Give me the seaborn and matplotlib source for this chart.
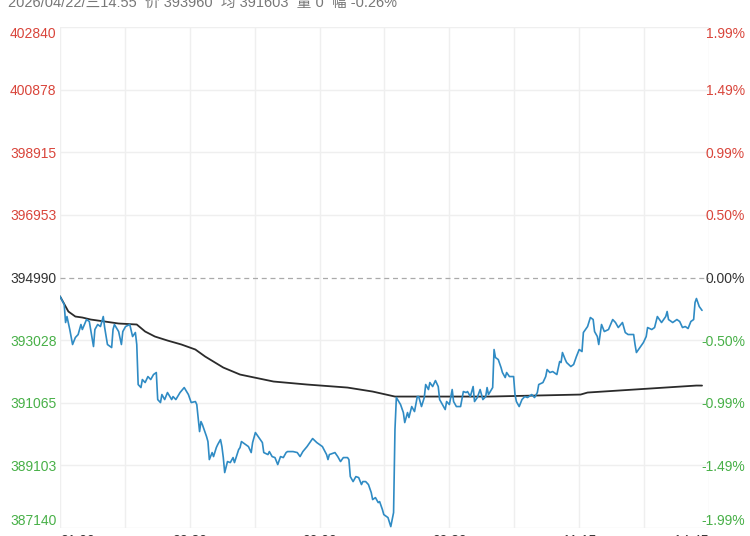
import matplotlib
matplotlib.use("Agg")
import matplotlib.pyplot as plt
import pandas as pd
import seaborn as sns

# -- Data ----------------------------------------------------------------------

PRE_CLOSE = 394990

# trading minutes since 21:00 (night 21:00-01:00, then the day session)
price_minute = [
    0, 3, 4, 5, 7, 9, 11, 13, 15, 16, 19, 21, 24, 25, 27, 29, 31, 32, 34, 37,
    38, 39, 42, 44, 45, 47, 50, 52, 54, 55, 56, 58, 59, 61, 63, 65, 67, 69, 70, 72,
    73, 75, 77, 80, 81, 83, 86, 89, 92, 94, 97, 98,
    100, 101, 102, 105, 106, 107, 109, 110, 112, 113, 115, 116, 117, 118, 120, 122, 124, 125,
    128, 129, 130, 133, 135, 137, 138, 140, 142, 145, 146, 149, 150, 152, 154, 156, 158, 160,
    162, 163, 167, 170, 172, 174, 177, 179, 181, 184, 186, 188, 191, 192, 193, 197, 199, 201,
    203, 206, 207, 208, 210, 212, 214, 216, 217, 219, 221, 223, 224, 226, 228, 229, 231, 232,
    234, 235, 237, 239, 240, 241,
    244, 246, 247, 249, 250, 252, 254, 256, 257, 259, 261, 262, 264, 265, 267, 269, 271, 272,
    274, 276, 277, 279, 281, 282, 284, 287, 289, 291, 292, 294, 296, 297, 299, 301, 303, 305,
    306, 307, 310, 311, 312, 314, 316, 317, 319, 320, 322, 325, 326, 327, 329, 331, 333, 335,
    338, 340, 342, 343, 346, 348, 349, 351, 353, 356, 358,
    359, 360, 362, 363, 366, 368, 370, 372, 374, 375, 378, 380, 382, 383, 385, 386, 388, 390,
    393, 396, 398, 400, 403, 405, 407, 411, 412, 413, 416, 418, 420, 421, 424, 426, 428, 431,
    434, 435, 436, 439, 442, 444, 446, 448, 450, 452, 454, 455, 456, 458, 460,
]
price = [
    394400, 394144, 393579, 393767, 393360, 392890, 393109, 393203, 393517, 393360,
    393673, 393611, 392827, 393360, 393517, 393454, 393767, 393422, 392890, 392795,
    393360, 393517, 393297, 392890, 393297, 393454, 393517, 393140, 393266, 392890,
    391636, 391541, 391792, 391698, 391886, 391792, 391949, 392012, 391165, 391071,
    391322, 391165, 391385, 391165, 391259, 391165, 391385, 391541, 391322, 391071,
    391103, 391009,
    390162, 390476, 390382, 390005, 389849, 389284, 389504, 389378, 389660, 389755,
    389911, 389692, 389347, 388877, 389222, 389190, 389347, 389190, 389598, 389660,
    389849, 389755, 389692, 389504, 389817, 390131, 390005, 389817, 389504, 389441,
    389535, 389378, 389347, 389128, 389378, 389347, 389504, 389535, 389535, 389504,
    389378, 389535, 389692, 389817, 389943, 389817, 389755, 389692, 389441, 389284,
    389441, 389504, 389378, 389222, 389347, 389347, 389284, 388751, 388595, 388751,
    388720, 388501, 388595, 388595, 388501, 388250, 388030, 388093, 387936, 387968,
    387717, 387560, 387497, 387466, 387184, 387623, 390225, 391228,
    391009, 390758, 390444, 390758, 390601, 390946, 390789, 391259, 391259, 390946,
    391228, 391636, 391479, 391698, 391573, 391761, 391573, 391165, 391009, 390852,
    391103, 391009, 391479, 391103, 390946, 390946, 391416, 391385, 391416, 391259,
    391573, 391103, 391228, 391479, 391165, 391259, 391541, 391322, 391541, 392733,
    392482, 392419, 392168, 392012, 391855, 392012, 391886, 391886, 391322, 391103,
    390946, 391165, 391259, 391228, 391322, 391228, 391385, 391636, 391698, 391886,
    392106, 392012, 392043, 391949, 392357,
    392325, 392639, 392419, 392325, 392200, 392263, 392513, 392733, 392670, 393266,
    393454, 393736, 393673, 393297, 393140, 392890, 393517, 393297, 393360, 393673,
    393579, 393422, 393579, 393266, 393203, 393203, 392890, 392639, 392827, 392952,
    393140, 393422, 393360, 393422, 393767, 393579, 393767, 393924, 393673, 393579,
    393673, 393611, 393422, 393454, 393391, 393611, 393673, 394206, 394332, 394081,
    393960,
]

avg_minute = [0, 6, 11, 16, 22, 32, 42, 55, 61, 68, 77, 87, 97, 104, 117, 129, 153, 177, 206, 224,
              240, 308, 373, 378, 456, 460]
avg_price = [
    394400, 393924, 393767, 393736, 393673, 393611, 393548, 393517, 393297, 393140,
    393015, 392890, 392733, 392513, 392168, 391949, 391730, 391636, 391541, 391416,
    391259, 391259, 391322, 391385, 391604, 391603,
]

y_levels = [387140, 389103, 391065, 393028, 394990, 396953, 398915, 400878, 402840]
pct_labels = ["-1.99%", "-1.49%", "-0.99%", "-0.50%", "0.00%", "0.50%", "0.99%", "1.49%", "1.99%"]

x_ticks = [0, 93, 186, 279, 372, 465]
x_labels = ["21:00", "22:30", "00:00", "09:30", "11:15", "14:45"]
SESSION_MINUTES = 465

header = "2026/04/22/三14:55  价 393960  均 391603  量 0  幅 -0.26%"

RED = "#d9453b"
GREEN = "#48b048"
DARK = "#333333"
GRID = "#efefef"

# -- Plot ----------------------------------------------------------------------

sns.set_style("white")
plt.rcParams["font.family"] = ["Liberation Sans", "DejaVu Sans"]

fig = plt.figure(figsize=(7.5, 5.36), dpi=100)
ax = fig.add_axes([60 / 750, 1 - 528 / 536, 649 / 750, 501 / 536])

df_price = pd.DataFrame({"minute": price_minute, "price": price})
df_avg = pd.DataFrame({"minute": avg_minute, "price": avg_price})

# grid
for i in range(11):
    ax.axvline(SESSION_MINUTES * i / 10, color=GRID, lw=1, zorder=0)
for lv in y_levels:
    if lv != PRE_CLOSE:
        ax.axhline(lv, color=GRID, lw=1, zorder=0)
ax.axhline(PRE_CLOSE, color="#aaaaaa", lw=0.9, ls=(0, (4, 3)), zorder=1)

sns.lineplot(data=df_avg, x="minute", y="price", ax=ax, color="#2b2b2b", lw=1.3, zorder=3)
sns.lineplot(data=df_price, x="minute", y="price", ax=ax, color="#2f8bc4", lw=1.2, zorder=4)

ax.set_xlim(0, SESSION_MINUTES)
ax.set_ylim(y_levels[0], y_levels[-1])
ax.set_xlabel("")
ax.set_ylabel("")
for s in ax.spines.values():
    s.set_visible(False)


def level_color(v):
    if v > PRE_CLOSE:
        return RED
    if v < PRE_CLOSE:
        return GREEN
    return DARK


# left price labels
ax.set_yticks(y_levels)
ax.set_yticklabels([str(v) for v in y_levels], fontsize=10)
ax.tick_params(axis="y", length=0, pad=36)
for lab, v in zip(ax.get_yticklabels(), y_levels):
    lab.set_horizontalalignment("left")
    lab.set_color(level_color(v))
ax.get_yticklabels()[0].set_va("bottom")
ax.get_yticklabels()[-1].set_va("top")

# right percent labels
ax2 = ax.twinx()
ax2.set_ylim(ax.get_ylim())
ax2.set_yticks(y_levels)
ax2.set_yticklabels(pct_labels, fontsize=10)
ax2.tick_params(axis="y", length=0, pad=26)
for lab, v in zip(ax2.get_yticklabels(), y_levels):
    lab.set_horizontalalignment("right")
    lab.set_color(level_color(v))
ax2.get_yticklabels()[0].set_va("bottom")
ax2.get_yticklabels()[-1].set_va("top")
for s in ax2.spines.values():
    s.set_visible(False)

# time labels
ax.set_xticks(x_ticks)
ax.set_xticklabels(x_labels, fontsize=10, color=DARK)
ax.tick_params(axis="x", length=0, pad=4)
xl = ax.get_xticklabels()
xl[0].set_ha("left")
xl[-1].set_ha("right")

fig.text(8 / 750, 1 - 3 / 536, header, fontsize=10.5, color="#777777", va="center",
         family=["Liberation Sans", "Noto Sans CJK SC"])

fig.savefig("out.png", dpi=100)
